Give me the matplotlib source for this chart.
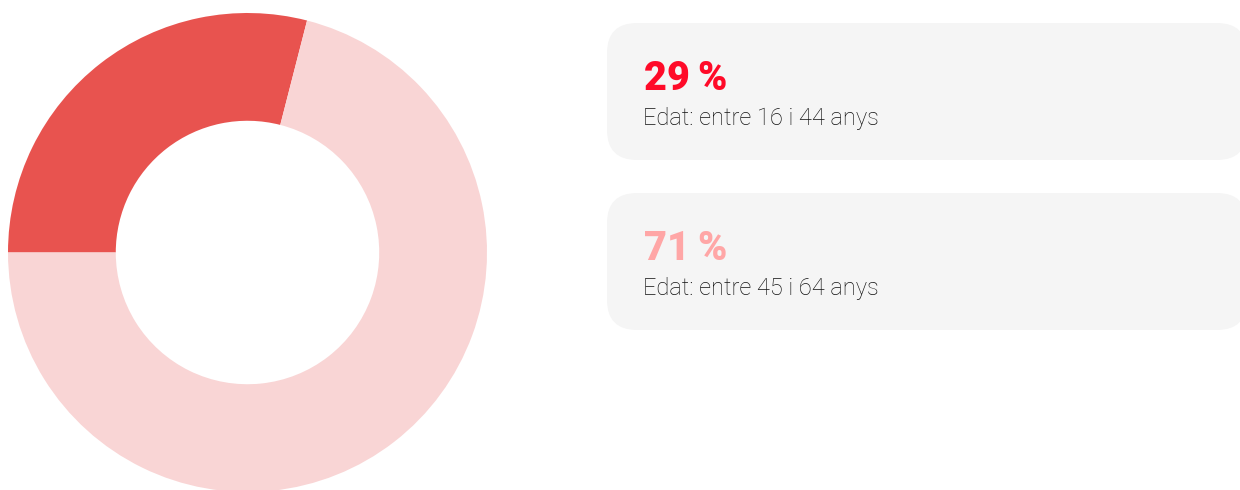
import matplotlib
matplotlib.use("Agg")
import matplotlib.pyplot as plt
from matplotlib.patches import FancyBboxPatch

# Datos
shares = [29, 71]
age_labels = ['Edat: entre 16 i 44 anys', 'Edat: entre 45 i 64 anys']
wedge_colors = ['#E8534F', '#F9D5D5']
pct_colors = ['#FF0A28', '#FFA6A6']

W, H = 1240, 490
fig = plt.figure(figsize=(W / 100, H / 100), dpi=100)
fig.patch.set_facecolor('white')

# --- Donut ---
cx, cy, r = 247.5, 252.5, 239.5
ax = fig.add_axes([(cx - r) / W, (H - cy - r) / H, 2 * r / W, 2 * r / H])
ax.pie(shares, colors=wedge_colors, startangle=180, counterclock=False,
       radius=1, wedgeprops=dict(width=0.45, linewidth=0))
ax.set_xlim(-1, 1)
ax.set_ylim(-1, 1)
ax.set_aspect('equal')
ax.axis('off')

# --- Tarjetas ---
ov = fig.add_axes([0, 0, 1, 1])
ov.set_xlim(0, W)
ov.set_ylim(H, 0)
ov.axis('off')
ov.patch.set_alpha(0)

box_tops = [23, 193]
box_h = 137
for i, (val, lab) in enumerate(zip(shares, age_labels)):
    top = box_tops[i]
    ov.add_patch(FancyBboxPatch((607 + 30, top + 30), 640 - 60, box_h - 60,
                                boxstyle='round,pad=30,rounding_size=30',
                                facecolor='#F5F5F5', edgecolor='none'))
    ov.text(644, top + 67, f'{val}\u2009%', color=pct_colors[i],
            fontsize=28.5, fontweight='black', family=['Roboto', 'DejaVu Sans'],
            va='baseline', ha='left')
    ov.text(643, top + 102, lab, color='#111111',
            fontsize=17, fontweight='light', family=['Roboto', 'DejaVu Sans'],
            va='baseline', ha='left')

plt.savefig('out.png', dpi=100)
plt.close()
